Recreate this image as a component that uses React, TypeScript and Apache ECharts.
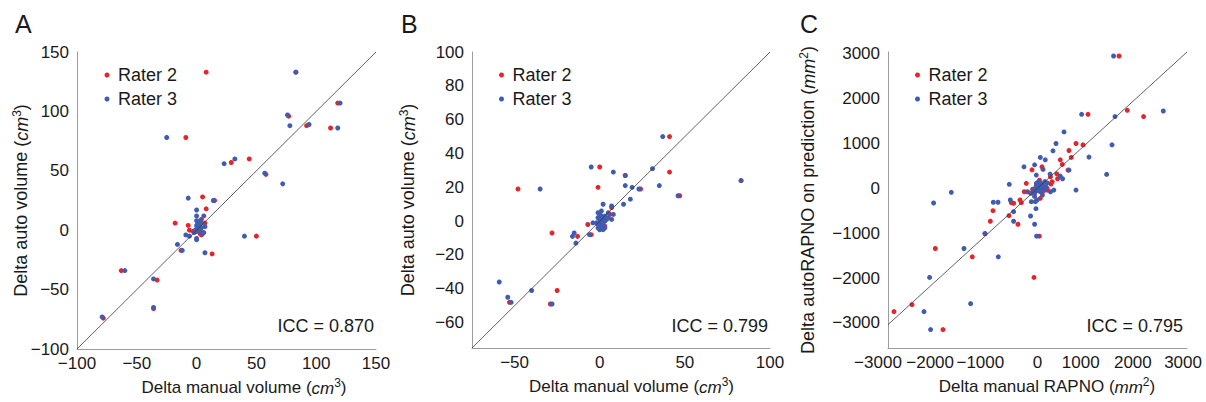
import React, { useEffect, useRef } from "react";
import * as echarts from "echarts";

const FONT = '"Liberation Sans", Arial, Helvetica, sans-serif';
const RED = "#e3252c";
const BLUE = "#3f5cb2";
const TEXT = "#1a1a1a";

// Panel A: delta manual volume vs delta auto volume (cm3)
const aRater2: number[][] = [
  [8, 133], [83, 133], [118, 107], [77, 96], [92, 88], [112, 86], [-9, 78], [29, 57], [44, 60], [58, 47],
  [5, 28], [15, 25], [8, 18], [-18, 6], [-7, 4], [7, 6], [-6, 0], [5, -2], [3, -3], [50, -5], [-13, -17],
  [13, -20], [-63, -34], [-33, -42], [-36, -66], [-78, -74], [4, 9], [-3, -1], [4, -4], [1, 2], [2, 1],
  [-1, -1], [0, 0], [2, 5],
];
const aRater3: number[][] = [
  [83, 133], [120, 107], [76, 97], [78, 88], [94, 89], [118, 86], [-25, 78], [23, 56], [32, 60], [57, 48],
  [72, 39], [-7, 27], [14, 25], [0, 17], [6, 12], [0, 12], [-9, -4], [-6, -5], [6, -2], [0, -7], [0, -8],
  [40, -5], [-16, -12], [-12, -17], [7, -19], [-60, -34], [-36, -41], [-36, -65], [-79, -73], [7, 3], [5, -3],
  [-2, -2], [-1, 0], [0, 1], [1, 2], [2, 3], [3, 5], [1, 6], [2, 7], [0, 4], [-1, -1], [2, 0], [3, 1],
  [4, 2], [1, -1], [0, 8], [3, 8], [4, 6], [1, 4],
];

// Panel B: delta manual volume vs delta auto volume (cm3)
const bRater2: number[][] = [
  [41, 50], [41, 29], [0, 32], [15, 27], [-1, 20], [-48, 19], [24, 19], [47, 15], [83, 24], [7, 8], [6, 4],
  [-7, -2], [-28, -7], [-13, -9], [-5, -8], [-53, -48], [-25, -41], [-29, -49], [1, 0], [3, -3], [0, -5], [2, 2],
];
const bRater3: number[][] = [
  [37, 50], [31, 31], [-5, 32], [8, 29], [15, 27], [-35, 19], [15, 21], [19, 20], [23, 19], [35, 21], [46, 15],
  [83, 24], [18, 13], [14, 10], [2, 10], [7, 9], [1, 6], [5, 5], [8, 4], [7, 1], [-4, -1], [-15, -7], [-16, -9],
  [-6, -8], [-14, -13], [-59, -36], [-54, -45], [-52, -48], [-40, -41], [-28, -49], [0, 0], [1, 1], [-1, -2],
  [0, -3], [1, -4], [2, -5], [3, -4], [2, 2], [1, 3], [0, 4], [-1, 2], [3, 0], [4, 1], [5, 2], [-2, -1],
  [1, -1], [2, -2], [0, 2], [-1, 5], [3, 3], [0, -5], [-1, -4],
];

// Panel C: delta manual RAPNO vs delta autoRAPNO (mm2)
const cRater2: number[][] = [
  [1657, 2950], [1826, 1740], [2157, 1600], [1027, 1650], [783, 1000], [925, 969], [640, 844], [687, 689],
  [463, 636], [504, 533], [-112, 413], [91, 480], [620, 407], [392, 324], [408, 213], [274, 96], [-533, -320],
  [-486, -333], [-356, -260], [-329, -320], [-905, -498], [-580, -609], [-960, -733], [-397, -800],
  [-1068, -1009], [37, -1067], [-2078, -1342], [-1326, -1527], [-72, -1987], [-2552, -2593], [-2918, -2749],
  [-1922, -3149], [-228, 111], [264, 258], [298, 147], [-269, -76], [-138, -111], [57, -222], [196, 0],
  [0, -50], [80, 100], [150, 30], [-30, 30], [120, -60], [-100, -20], [40, 180], [200, -40],
];
const cRater3: number[][] = [
  [1547, 2950], [2558, 1725], [1576, 1600], [897, 1650], [539, 1258], [376, 1000], [1515, 969], [315, 836],
  [1047, 696], [57, 689], [158, 636], [-59, 524], [-275, 480], [112, 422], [640, 407], [256, 318], [510, 213],
  [783, -38], [1406, 311], [-574, 89], [-1753, -89], [-2113, -327], [-899, -311], [-803, -311], [-553, -260],
  [-486, -520], [-141, -616], [-486, -733], [-59, -800], [-31, -453], [-1068, -1009], [-18, -1067],
  [-1495, -1342], [-797, -1527], [-2194, -1987], [-1360, -2571], [-2308, -2749], [-2174, -3149], [-24, 296],
  [-24, 111], [463, 273], [-202, -76], [-57, -111], [-125, -298], [-45, -298], [-10, -260], [264, -76],
  [332, -38], [0, 0], [50, 50], [100, 100], [150, 150], [-50, -50], [-100, -100], [80, 20], [120, 60],
  [30, -30], [60, -80], [-20, 60], [140, -20], [170, 30], [200, 120], [20, 150], [-80, -30], [100, -150],
  [-60, -180],
];

const panelLetters = ["A", "B", "C"];
const iccTexts = ["ICC = 0.870", "ICC = 0.799", "ICC = 0.795"];
const xNames = [
  "Delta manual volume ({i|cm}{s|3})",
  "Delta manual volume ({i|cm}{s|3})",
  "Delta manual RAPNO ({i|mm}{s|2})",
];
const yNames = [
  "Delta auto volume ({i|cm}{s|3})",
  "Delta auto volume ({i|cm}{s|3})",
  "Delta autoRAPNO on prediction ({i|mm}{s|2})",
];
const xRanges = [[-100, 150, 50, 50], [-75, 100, 25, 50], [-3040, 3040, 40, 1000]];
const yRanges = [[-100, 150, 50, 50], [-75, 100, 5, 20], [-3560, 3040, 40, 1000]];
const legendNames = ["Rater 2", "Rater 3"];

const grids = [
  { left: 77, top: 52, width: 299, height: 297 },
  { left: 472, top: 52, width: 298, height: 296 },
  { left: 888, top: 52, width: 299, height: 296 },
];
const yNameGaps = [46, 54, 70];
const xNamePad = [35, 21, 19];
const legendLefts = [104.5, 499, 915];
const letterX = [15, 401, 800];
const iccRight = [374, 768, 1183];
// leftward shift (px) of panel C's x tick labels, as placed in the original figure
const cLabelShift: Record<string, number> = {
  "-3000": 12, "-2000": 9, "-1000": 8, "0": 0, "1000": 6, "2000": 3, "3000": 2,
};

function fmt(v: number): string {
  return String(v).replace("-", "\u2212");
}

export default function App() {
  const ref = useRef<HTMLDivElement>(null);
  useEffect(() => {
    document.body.style.margin = "0";
    const chart = echarts.init(ref.current!, undefined, { renderer: "svg" });
    const nameRich = (fs: number) => ({
      i: { fontStyle: "italic", fontFamily: FONT, color: TEXT, fontSize: fs, lineHeight: 20, verticalAlign: "bottom" },
      s: { fontFamily: FONT, color: TEXT, fontSize: 12, lineHeight: 12, verticalAlign: "top" },
    });
    const axisCommon = () => ({
      type: "value" as const,
      axisLine: { show: true, onZero: false, lineStyle: { color: "#9c9c9c", width: 1 } },
      axisTick: { show: false },
      splitLine: { show: false },
      nameMoveOverlap: false,
    });
    const labelBase = { color: TEXT, fontSize: 17, fontFamily: FONT };
    const xAxis = xRanges.map((r, i) => {
      const step = r[3];
      const shiftRich: Record<string, any> = {};
      Object.keys(cLabelShift).forEach((k, j) => {
        shiftRich["p" + j] = { ...labelBase, padding: [0, cLabelShift[k] * 2, 0, 0] };
      });
      return {
        ...axisCommon(),
        gridIndex: i,
        min: r[0],
        max: r[1],
        interval: r[2],
        axisLabel: {
          ...labelBase,
          margin: 6,
          rich: i === 2 ? shiftRich : undefined,
          formatter: (v: number) => {
            if (Math.abs(v % step) > 1e-6) return "";
            if (i === 2) {
              const idx = Object.keys(cLabelShift).indexOf(String(v));
              if (idx >= 0) return "{p" + idx + "|" + fmt(v) + "}";
            }
            return fmt(v);
          },
        },
        name: xNames[i],
        nameLocation: "middle",
        nameGap: 28,
        nameTextStyle: {
          color: TEXT,
          fontSize: 17,
          fontFamily: FONT,
          lineHeight: 20,
          padding: [0, 0, 0, xNamePad[i]],
          rich: nameRich(17),
        },
      };
    });
    const yAxis = yRanges.map((r, i) => {
      const step = r[3];
      return {
        ...axisCommon(),
        gridIndex: i,
        min: r[0],
        max: r[1],
        interval: r[2],
        axisLabel: {
          ...labelBase,
          margin: 8,
          formatter: (v: number) => (Math.abs(v % step) < 1e-6 ? fmt(v) : ""),
        },
        name: yNames[i],
        nameLocation: "middle",
        nameRotate: 90,
        nameGap: yNameGaps[i],
        nameTextStyle: {
          color: TEXT,
          fontSize: 18,
          fontFamily: FONT,
          lineHeight: 20,
          rich: nameRich(18),
        },
      };
    });
    const datasets = [
      [aRater2, aRater3],
      [bRater2, bRater3],
      [cRater2, cRater3],
    ];
    const series: any[] = [];
    datasets.forEach((pair, i) => {
      const lo = Math.max(xRanges[i][0], yRanges[i][0]);
      const hi = Math.min(xRanges[i][1], yRanges[i][1]);
      series.push({
        type: "line",
        name: "identity" + i,
        xAxisIndex: i,
        yAxisIndex: i,
        data: [[lo, lo], [hi, hi]],
        symbol: "none",
        silent: true,
        lineStyle: { color: "#3a3a3a", width: 0.8 },
      });
      series.push({
        type: "scatter",
        name: legendNames[0],
        xAxisIndex: i,
        yAxisIndex: i,
        data: pair[0],
        symbolSize: 5,
        itemStyle: { color: RED, opacity: 1 },
      });
      series.push({
        type: "scatter",
        name: legendNames[1],
        xAxisIndex: i,
        yAxisIndex: i,
        data: pair[1],
        symbolSize: 5,
        itemStyle: { color: BLUE, opacity: 1 },
      });
    });
    const legend = legendLefts.map((l) => ({
      data: legendNames,
      orient: "vertical",
      left: l,
      top: 66,
      padding: 0,
      icon: "circle",
      itemWidth: 5,
      itemHeight: 5,
      itemGap: 6,
      selectedMode: false,
      textStyle: { color: TEXT, fontSize: 18, fontFamily: FONT, padding: [0, 0, 0, 3.5] },
    }));
    const graphic: any[] = [];
    panelLetters.forEach((t, i) => {
      graphic.push({
        type: "text",
        x: letterX[i],
        y: 24,
        style: {
          text: t,
          fill: TEXT,
          fontSize: 25,
          fontFamily: FONT,
          textAlign: "left",
          textVerticalAlign: "middle",
        },
      });
      graphic.push({
        type: "text",
        x: iccRight[i],
        y: 325.5,
        style: {
          text: iccTexts[i],
          fill: TEXT,
          fontSize: 18,
          fontFamily: FONT,
          textAlign: "right",
          textVerticalAlign: "middle",
        },
      });
    });
    chart.setOption({
      animation: false,
      backgroundColor: "#ffffff",
      grid: grids.map((g) => ({ ...g, containLabel: false })),
      xAxis,
      yAxis,
      legend,
      series,
      graphic,
    });
    return () => chart.dispose();
  }, []);
  return <div ref={ref} style={{ width: 1206, height: 402 }} />;
}
